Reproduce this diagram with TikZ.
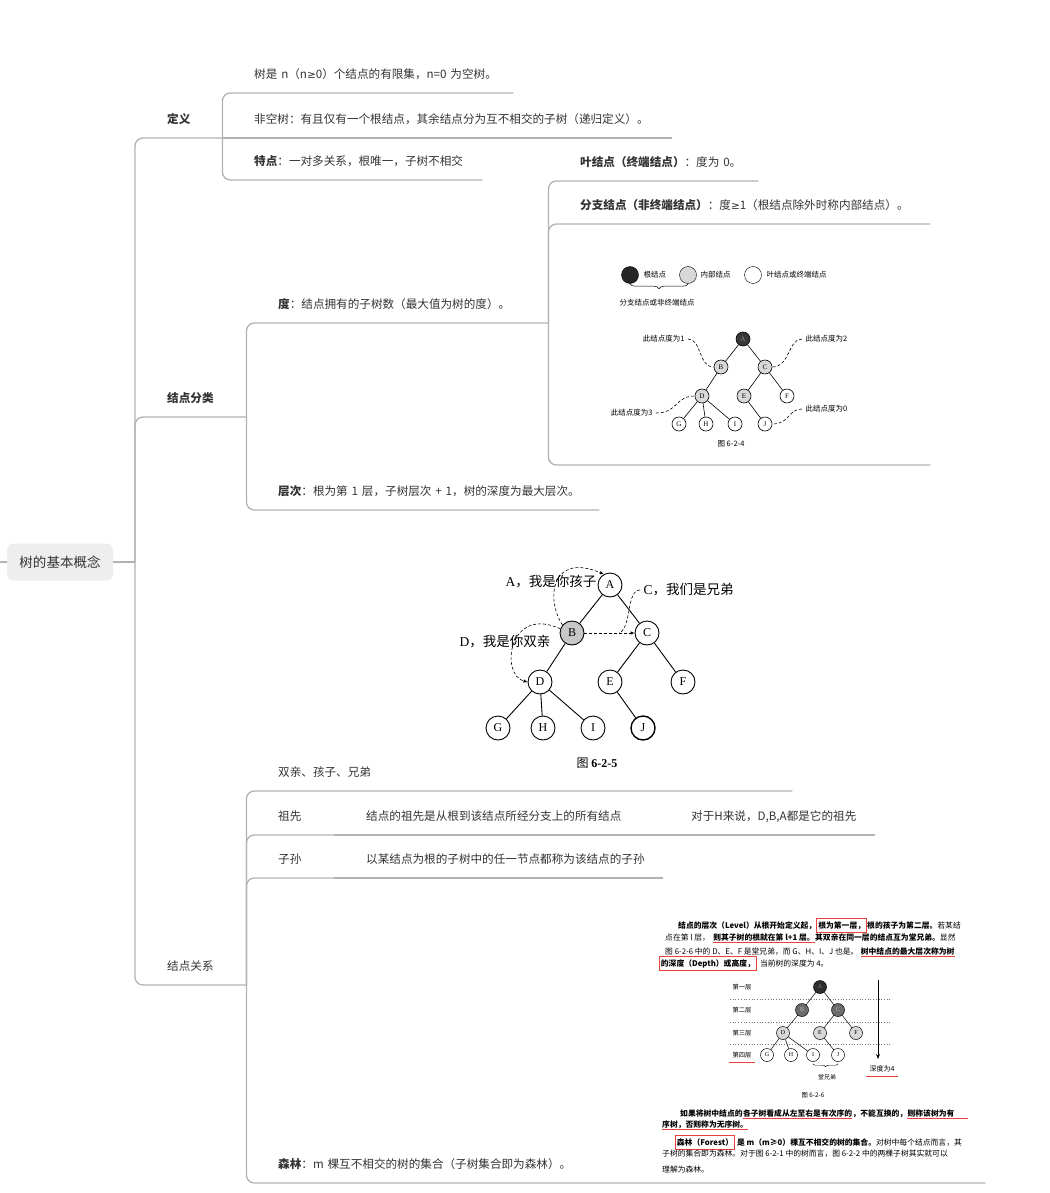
\documentclass[tikz,border=0pt]{standalone}
\usepackage{fontspec}
\setmainfont{Noto Sans CJK SC}
\newfontfamily\picserif{Liberation Serif}
\newfontfamily\symsans{DejaVu Sans}
\usetikzlibrary{arrows.meta,decorations.pathreplacing}

\definecolor{txt}{HTML}{333333}
\definecolor{linegray}{HTML}{B2B2B2}
\definecolor{rootfill}{HTML}{EEEEEE}
\definecolor{markred}{HTML}{E8413B}
\definecolor{ballgray}{HTML}{D8D8D8}

\newcommand\mapfont{\fontsize{11.6}{14}\selectfont}
\newcommand\notefont{\fontsize{7.5}{8}\selectfont}
\newcommand\bookfont{\fontsize{7.8}{9}\selectfont}
\newcommand\tpc[1]{\noindent\hspace*{32pt}#1}
\newcommand\gesign{{\symsans\fontsize{10.5}{14}\selectfont ≥}}

\begin{document}
\begin{tikzpicture}[x=1pt,y=-1pt,
  conn/.style={draw=linegray,line width=1.3pt,rounded corners=8pt},
  topic/.style={anchor=south west,inner sep=0pt,text width=#1pt,align=left,
    text height=10pt,text depth=14.5pt,text=txt,font=\mapfont},
  bigball/.style={circle,draw,line width=0.9pt,fill=white,minimum size=24pt,
    inner sep=0pt,font=\picserif\fontsize{12}{12}\selectfont},
  smallball/.style={circle,draw,line width=0.6pt,fill=white,minimum size=14pt,
    inner sep=0pt,font=\picserif\fontsize{7}{7}\selectfont},
  tinyball/.style={circle,draw,line width=0.5pt,fill=white,minimum size=13pt,
    inner sep=0pt,font=\picserif\fontsize{6}{6}\selectfont},
  note/.style={densely dashed,line width=0.6pt},
  seg/.style={anchor=base west,inner sep=0pt,font=\bookfont,text depth=2.5pt},
  redbox/.style={draw=markred,line width=0.8pt,inner xsep=1.5pt,inner ysep=1.5pt,text height=8pt},
  redpen/.style={draw=markred,line width=0.8pt}]
\useasboundingbox (0,0) rectangle (1049,1193);

% root and trunk
\node[fill=rootfill,rounded corners=6pt,minimum width=106pt,minimum height=37pt,
  text=txt,font=\fontsize{13.5}{14}\selectfont] (root) at (60,562) {树的基本概念};
\coordinate (stub) at (0,562);
\coordinate (hub) at (135,562);
\draw[conn] (stub) -- (root.west);
\draw[conn] (root.east) -- (hub);

% definition
\node[topic=87] (def) at (135,138) {\tpc{\textbf{定义}}};
\node[topic=291] (defa) at (222,93) {\tpc{树是 n（n\gesign 0）个结点的有限集，n=0 为空树。}};
\node[topic=450] (defb) at (222,138) {\tpc{非空树：有且仅有一个根结点，其余结点分为互不相交的子树（递归定义）。}};
\node[topic=260] (defc) at (222,180) {\tpc{\textbf{特点}：一对多关系，根唯一，子树不相交}};

% classes
\node[topic=111] (cls) at (135,417) {\tpc{\textbf{结点分类}}};
\node[topic=302] (deg) at (246,323) {\tpc{\textbf{度}：结点拥有的子树数（最大值为树的度）。}};
\node[topic=210] (leaf) at (548,181) {\tpc{\textbf{叶结点（终端结点）}：度为 0。}};
\node[topic=382] (brch) at (548,224) {\tpc{\textbf{分支结点（非终端结点）}：度\gesign 1（根结点除外时称内部结点）。}};
\node[topic=382] (fig4) at (548,465) {};
\node[topic=353] (lvl) at (246,510) {\tpc{\textbf{层次}：根为第 1 层，子树层次 + 1，树的深度为最大层次。}};

% relations
\node[topic=111] (rel) at (135,985) {\tpc{结点关系}};
\node[topic=546] (fam) at (246,791) {\tpc{双亲、孩子、兄弟}};
\node[topic=88] (anc) at (246,835) {\tpc{祖先}};
\node[topic=325] (ancd) at (334,835) {\tpc{结点的祖先是从根到该结点所经分支上的所有结点}};
\node[topic=216] (anceg) at (659,835) {\tpc{对于H来说，D,B,A都是它的祖先}};
\node[topic=88] (des) at (246,878) {\tpc{子孙}};
\node[topic=329] (desd) at (334,878) {\tpc{以某结点为根的子树中的任一节点都称为该结点的子孙}};
\node[topic=739] (frst) at (246,1183) {\tpc{\textbf{森林}：m 棵互不相交的树的集合（子树集合即为森林）。}};

\draw[conn] (hub) |- (def.south east);
\draw[conn] (hub) |- (cls.south east);
\draw[conn] (hub) |- (rel.south east);
\draw[conn] (def.south east) |- (defa.south east);
\draw[conn] (def.south east) -- (defb.south east);
\draw[conn] (def.south east) |- (defc.south east);
\draw[conn] (cls.south east) |- (deg.south east);
\draw[conn] (cls.south east) |- (lvl.south east);
\draw[conn] (deg.south east) |- (leaf.south east);
\draw[conn] (deg.south east) |- (brch.south east);
\draw[conn] (deg.south east) |- (fig4.south east);
\draw[conn] (rel.south east) |- (fam.south east);
\draw[conn] (rel.south east) |- (anc.south east);
\draw[conn] (anc.south east) -- (ancd.south east);
\draw[conn] (ancd.south east) -- (anceg.south east);
\draw[conn] (rel.south east) |- (des.south east);
\draw[conn] (des.south east) -- (desd.south east);
\draw[conn] (rel.south east) |- (frst.south east);

% figure 6-2-4
\node[circle,draw,fill=black!85,minimum size=17pt,inner sep=0pt] (kroot) at (630,275) {};
\node[anchor=west,font=\notefont] (krootl) at (640,275) {根结点};
\node[circle,draw,fill=ballgray,minimum size=17pt,inner sep=0pt] (kin) at (688,275) {};
\node[anchor=west,font=\notefont] (kinl) at (697,275) {内部结点};
\node[circle,draw,fill=white,minimum size=17pt,inner sep=0pt] (kleaf) at (753,275) {};
\node[anchor=west,font=\notefont] (kleafl) at (763,275) {叶结点或终端结点};
\draw[decorate,decoration={brace,mirror,amplitude=5pt},line width=0.5pt] (kroot.south) -- (kin.south);
\node[font=\notefont] (kbr) at (657,303) {分支结点或非终端结点};

\node[smallball,fill=black!78,text=black!45] (a4) at (743,339) {A};
\node[smallball,fill=ballgray] (b4) at (721,367) {B};
\node[smallball,fill=ballgray] (c4) at (765,367) {C};
\node[smallball,fill=ballgray] (d4) at (702,396) {D};
\node[smallball,fill=ballgray] (e4) at (744,396) {E};
\node[smallball] (f4) at (787,396) {F};
\node[smallball] (g4) at (679,424) {G};
\node[smallball] (h4) at (706,424) {H};
\node[smallball] (i4) at (735,424) {I};
\node[smallball] (j4) at (765,424) {J};
\draw[line width=0.6pt] (a4) -- (b4) (a4) -- (c4) (b4) -- (d4) (c4) -- (e4) (c4) -- (f4)
  (d4) -- (g4) (d4) -- (h4) (d4) -- (i4) (e4) -- (j4);

\node[anchor=east,font=\notefont] (n1) at (688,339) {此结点度为1};
\draw[note] (n1.east) .. controls (702,339) and (698,367) .. (b4.west);
\node[anchor=west,font=\notefont] (n2) at (802,339) {此结点度为2};
\draw[note] (n2.west) .. controls (788,339) and (790,367) .. (c4.east);
\node[anchor=east,font=\notefont] (n3) at (656,413) {此结点度为3};
\draw[note] (n3.east) .. controls (678,413) and (675,396) .. (d4.west);
\node[anchor=west,font=\notefont] (n0) at (802,409) {此结点度为0};
\draw[note] (n0.west) .. controls (788,409) and (790,424) .. (j4.east);
\node[font=\notefont] (cap4) at (731,444) {图 6-2-4};

% figure 6-2-5
\node[bigball] (a5) at (610,585) {A};
\node[bigball,fill=black!22] (b5) at (572,633) {B};
\node[bigball] (c5) at (647,633) {C};
\node[bigball] (d5) at (540,682) {D};
\node[bigball] (e5) at (610,682) {E};
\node[bigball] (f5) at (683,682) {F};
\node[bigball] (g5) at (498,728) {G};
\node[bigball] (h5) at (543,728) {H};
\node[bigball] (i5) at (593,728) {I};
\node[bigball,line width=1.4pt] (j5) at (643,728) {J};
\draw[line width=0.9pt] (a5) -- (b5) (a5) -- (c5) (b5) -- (d5) (c5) -- (e5) (c5) -- (f5)
  (d5) -- (g5) (d5) -- (h5) (d5) -- (i5) (e5) -- (j5);

\node[anchor=east,font=\fontsize{13.5}{14}\selectfont] (s5a) at (600,582) {{\picserif A}，我是你孩子};
\node[anchor=west,font=\fontsize{13.5}{14}\selectfont] (s5c) at (640,590) {{\picserif C}，我们是兄弟};
\node[anchor=west,font=\fontsize{13.5}{14}\selectfont] (s5d) at (456,642) {{\picserif D}，我是你双亲};
\coordinate (bc5) at (619,633);
\draw[note,-{Latex[length=4pt,width=3.5pt]}] (b5.140) .. controls (545,598) and (552,552) .. (a5.120);
\draw[note,-{Latex[length=4pt,width=3.5pt]}] (b5.east) -- (c5.west);
\draw[note] (s5c.west) .. controls (626,590) and (632,628) .. (bc5);
\draw[note,-{Latex[length=4pt,width=3.5pt]}] (b5.160) .. controls (508,605) and (500,675) .. (d5.west);
\node[font=\fontsize{12}{12}\selectfont] (cap5) at (597,763) {图 {\picserif\bfseries 6-2-5}};

% figure 6-2-6 page
\node[seg,font=\bookfont\bfseries] (p1a) at (678,928) {结点的层次（Level）从根开始定义起，};
\node[seg,redbox,font=\bookfont\bfseries] (p1b) at (p1a.base east) {根为第一层，};
\node[seg,font=\bookfont\bfseries] (p1c) at (p1b.base east) {根的孩子为第二层。\mdseries 若某结};
\node[seg] (p2a) at (665,940) {点在第 l 层，};
\node[seg,font=\bookfont\bfseries] (p2b) at ([xshift=3pt]p2a.base east) {则其子树的根就在第 l+1 层。};
\node[seg,font=\bookfont\bfseries] (p2c) at (p2b.base east) {其双亲在同一层的结点互为堂兄弟。\mdseries 显然};
\draw[redpen] (p2b.south west) -- (p2b.south east);
\node[seg] (p3a) at (665,954) {图 6-2-6 中的 D、E、F 是堂兄弟，而 G、H、I、J 也是。};
\node[seg,font=\bookfont\bfseries] (p3b) at ([xshift=2pt]p3a.base east) {树中结点的最大层次称为树};
\draw[redpen] (p3b.south west) -- (p3b.south east);
\node[seg,redbox,font=\bookfont\bfseries] (p4a) at (659,966) {的深度（Depth）或高度，};
\node[seg] (p4b) at ([xshift=3pt]p4a.base east) {当前树的深度为 4。};

\foreach \y in {999,1022,1044}
  \draw[dotted,line width=0.7pt,black!55] (730,\y) -- (890,\y);
\node[font=\fontsize{6.3}{7}\selectfont] (lv1) at (742,987) {第一层};
\node[font=\fontsize{6.3}{7}\selectfont] (lv2) at (742,1010) {第二层};
\node[font=\fontsize{6.3}{7}\selectfont] (lv3) at (742,1033) {第三层};
\node[font=\fontsize{6.3}{7}\selectfont] (lv4) at (742,1055) {第四层};
\draw[redpen] ([yshift=-1pt]lv4.south west) -- ([yshift=-1pt]lv4.south east);

\node[tinyball,fill=black!82,text=black!50] (a6) at (820,987) {A};
\node[tinyball,fill=black!58,text=black!25] (b6) at (802,1010) {B};
\node[tinyball,fill=black!58,text=black!25] (c6) at (838,1010) {C};
\node[tinyball,fill=ballgray] (d6) at (783,1033) {D};
\node[tinyball,fill=ballgray] (e6) at (820,1033) {E};
\node[tinyball,fill=ballgray] (f6) at (856,1033) {F};
\node[tinyball] (g6) at (767,1055) {G};
\node[tinyball] (h6) at (791,1055) {H};
\node[tinyball] (i6) at (813,1055) {I};
\node[tinyball] (j6) at (838,1055) {J};
\draw[line width=0.5pt] (a6) -- (b6) (a6) -- (c6) (b6) -- (d6) (c6) -- (e6) (c6) -- (f6)
  (d6) -- (g6) (d6) -- (h6) (d6) -- (i6) (e6) -- (j6);
\draw[decorate,decoration={brace,mirror,amplitude=3pt},line width=0.4pt]
  ([yshift=-2pt]i6.south) -- ([yshift=-2pt]j6.south);
\node[font=\fontsize{6}{7}\selectfont] (cous) at (827,1077) {堂兄弟};
\coordinate (dtop) at (878,980);
\coordinate (dbot) at (878,1059);
\draw[line width=0.8pt,-{Stealth[length=5pt,width=4pt]}] (dtop) -- (dbot);
\node[font=\fontsize{7}{8}\selectfont] (dep) at (882,1069) {深度为4};
\draw[redpen] ([yshift=-1pt]dep.south west) -- ([yshift=-1pt]dep.south east);
\node[font=\fontsize{6.3}{7}\selectfont] (cap6) at (813,1095) {图 6-2-6};

\node[seg,font=\bookfont\bfseries] (q1a) at (680,1116) {如果将树中结点的};
\node[seg,font=\bookfont\bfseries] (q1b) at (q1a.base east) {各子树看成从左至右是有次序的};
\node[seg,font=\bookfont\bfseries] (q1c) at (q1b.base east) {，不能互换的，};
\node[seg,font=\bookfont\bfseries] (q1d) at (q1c.base east) {则称该树为有};
\draw[redpen] (q1b.south west) -- (q1b.south east);
\draw[redpen] (q1d.south west) -- ([xshift=13pt]q1d.south east);
\node[seg,font=\bookfont\bfseries] (q2a) at (662,1127) {序树，否则称为无序树。};
\draw[redpen] (q2a.south west) -- (q2a.south east);
\node[seg,redbox,font=\bookfont\bfseries] (q3a) at (675,1145) {森林（Forest）};
\node[seg,font=\bookfont\bfseries] (q3b) at ([xshift=2pt]q3a.base east) {是 m（m≥0）棵互不相交的树的集合。\mdseries 对树中每个结点而言，其};
\node[seg] (q4a) at (662,1156) {子树的集合即为森林。对于图 6-2-1 中的树而言，图 6-2-2 中的两棵子树其实就可以};
\node[seg] (q5a) at (662,1172) {理解为森林。};
\end{tikzpicture}
\end{document}
